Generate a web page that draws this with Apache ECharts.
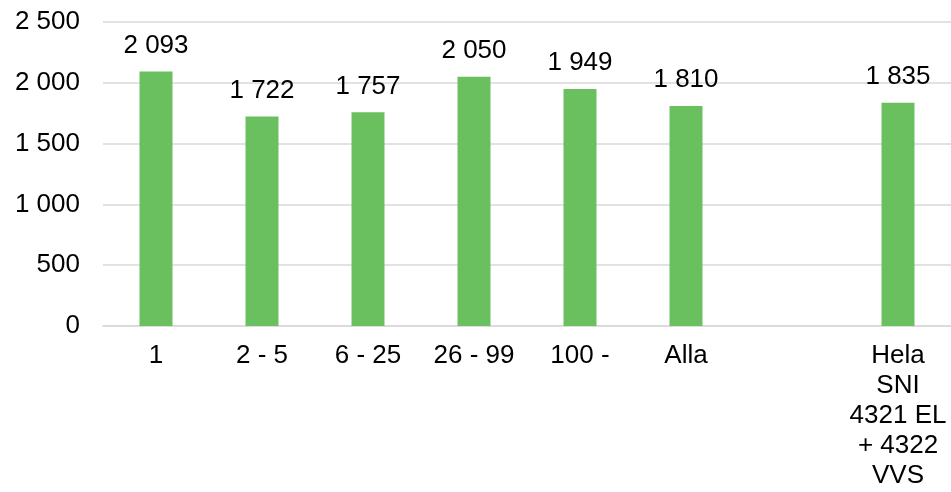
<!DOCTYPE html>
<html>
<head>
<meta charset="utf-8">
<script src="https://cdn.jsdelivr.net/npm/echarts@6/dist/echarts.min.js"></script>
<style>
  html, body { margin: 0; padding: 0; background: #fff; overflow: hidden; }
  #chart { width: 951px; height: 492px; }
</style>
</head>
<body>
<div id="chart"></div>
<script>
// storlek på företag
let kategorier = ["1", "2 - 5", "6 - 25", "26 - 99", "100 -", "Alla", "", "Hela\nSNI\n4321 EL\n+ 4322\nVVS"]
let varden = [2093, 1722, 1757, 2050, 1949, 1810, null, 1835]
let yTicks = [0, 500, 1000, 1500, 2000, 2500]

function fmt(v) {
    return String(v).replace(/\B(?=(\d{3})+(?!\d))/g, " ")
}

var myChart = echarts.init(document.getElementById("chart"))

var option = {
    animation: false,
    textStyle: { fontFamily: "Liberation Sans, Arial, sans-serif" },
    grid: { left: 103, top: 22, width: 851, height: 304, containLabel: false },
    xAxis: {
        type: "category",
        data: kategorier,
        axisTick: { show: false },
        axisLine: { lineStyle: { color: "#d9d9d9", width: 1.5 } },
        axisLabel: {
            color: "#000",
            fontSize: 26,
            margin: 15,
            lineHeight: 30,
            align: "center",
            interval: 0
        }
    },
    yAxis: {
        type: "value",
        min: yTicks[0],
        max: yTicks[yTicks.length - 1],
        interval: 500,
        axisLine: { show: false },
        axisTick: { show: false },
        splitLine: { lineStyle: { color: "#d9d9d9", width: 1.5 } },
        axisLabel: {
            color: "#000",
            fontSize: 26,
            margin: 23,
            formatter: fmt
        }
    },
    series: [{
        type: "bar",
        data: varden,
        barWidth: 33,
        itemStyle: { color: "#6abf5e" },
        label: {
            show: true,
            position: "top",
            distance: 13,
            color: "#000",
            fontSize: 26,
            formatter: function (p) { return fmt(p.value) }
        }
    }]
}

myChart.setOption(option)
</script>
</body>
</html>
